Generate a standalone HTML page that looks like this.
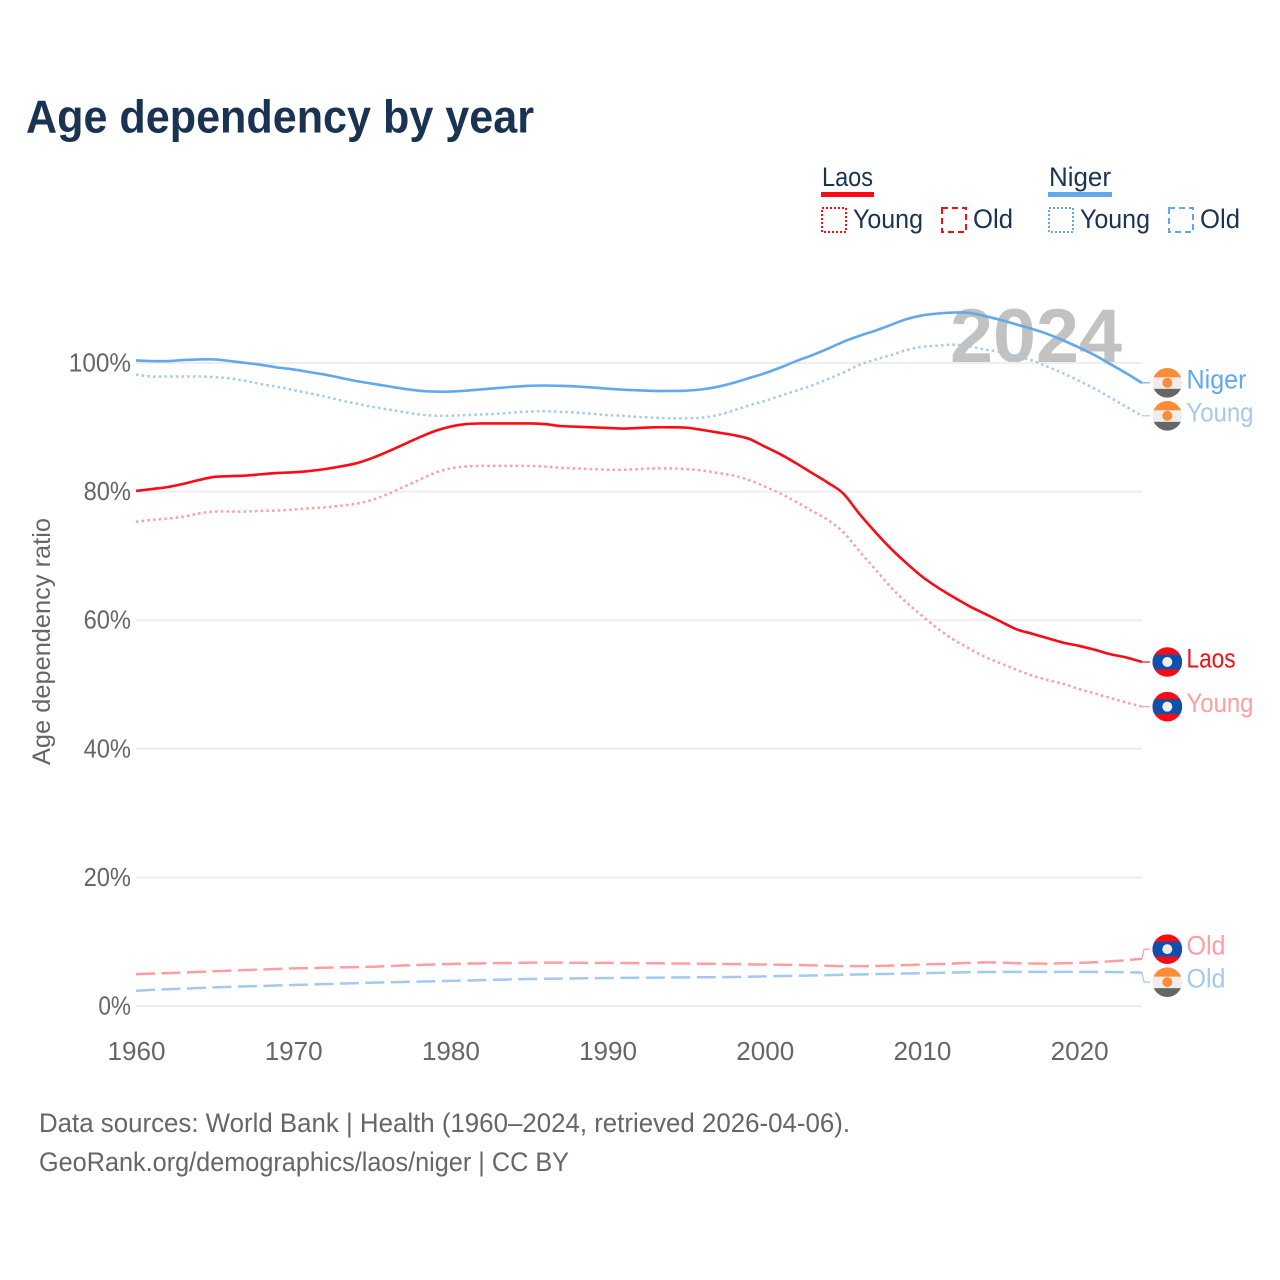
<!DOCTYPE html>
<html lang="en">
<head>
<meta charset="utf-8">
<title>Age dependency by year</title>
<style>
html,body{margin:0;padding:0;background:#fff;}
svg{display:block;font-family:"Liberation Sans",sans-serif;}
</style>
</head>
<body>
<svg id="chart" width="1280" height="1280" viewBox="0 0 1280 1280" xmlns="http://www.w3.org/2000/svg">
  <defs>
    <clipPath id="flag-clip"><circle cx="0" cy="0" r="14.8"/></clipPath>
  </defs>
  <rect width="1280" height="1280" fill="#fff"/>
  <text x="26" y="132.5" font-size="46" font-weight="700" fill="#1a3353" textLength="508" lengthAdjust="spacingAndGlyphs">Age dependency by year</text>

  <g>
    <text x="822" y="186" font-size="27" fill="#1a3353" textLength="51" lengthAdjust="spacingAndGlyphs">Laos</text>
    <rect x="821" y="192" width="53" height="5" fill="#ff0a14"/>
    <rect x="822" y="208" width="24" height="24" fill="none" stroke="#ff0a14" stroke-width="2" stroke-dasharray="2 2"/>
    <text x="853" y="228" font-size="27" fill="#1a3353" textLength="70" lengthAdjust="spacingAndGlyphs">Young</text>
    <rect x="942" y="208" width="24" height="24" fill="none" stroke="#ff0a14" stroke-width="2" stroke-dasharray="6 4"/>
    <text x="973" y="228" font-size="27" fill="#1a3353" textLength="40" lengthAdjust="spacingAndGlyphs">Old</text>

    <text x="1049" y="186" font-size="27" fill="#1a3353" textLength="62" lengthAdjust="spacingAndGlyphs">Niger</text>
    <rect x="1048" y="192" width="64" height="5" fill="#62a8ec"/>
    <rect x="1049" y="208" width="24" height="24" fill="none" stroke="#62a8ec" stroke-width="2" stroke-dasharray="2 2"/>
    <text x="1080" y="228" font-size="27" fill="#1a3353" textLength="70" lengthAdjust="spacingAndGlyphs">Young</text>
    <rect x="1169" y="208" width="24" height="24" fill="none" stroke="#62a8ec" stroke-width="2" stroke-dasharray="6 4"/>
    <text x="1200" y="228" font-size="27" fill="#1a3353" textLength="40" lengthAdjust="spacingAndGlyphs">Old</text>
  </g>

  <text x="950" y="362" font-size="76" font-weight="700" fill="#c2c2c2" textLength="172" lengthAdjust="spacingAndGlyphs">2024</text>

  <g id="grid"></g>
  <g id="y-ticks"></g>
  <g id="x-ticks"></g>
  <text transform="translate(50,765) rotate(-90)" x="0" y="0" font-size="25" fill="#666" textLength="247" lengthAdjust="spacingAndGlyphs">Age dependency ratio</text>
  <g id="series"></g>
  <g id="labels"></g>

  <text x="39" y="1132" font-size="26.5" fill="#666" textLength="811" lengthAdjust="spacingAndGlyphs">Data sources: World Bank | Health (1960–2024, retrieved 2026-04-06).</text>
  <text x="39" y="1171" font-size="26.5" fill="#666" textLength="530" lengthAdjust="spacingAndGlyphs">GeoRank.org/demographics/laos/niger | CC BY</text>
</svg>
<script>
const startYear = 1960;
const nigerTotal = [100.4,100.3,100.3,100.45,100.55,100.55,100.3,100,99.7,99.3,99,98.6,98.2,97.7,97.2,96.8,96.4,96,95.7,95.55,95.55,95.7,95.9,96.1,96.3,96.45,96.5,96.45,96.35,96.2,96,95.85,95.75,95.65,95.65,95.7,95.9,96.3,96.9,97.65,98.4,99.3,100.3,101.2,102.2,103.3,104.2,105,105.9,106.8,107.4,107.7,107.85,107.8,107.3,106.7,106,105.3,104.5,103.5,102.4,101.2,99.8,98.4,96.9];
const nigerYoung = [98.2,97.9,97.9,97.9,97.9,97.8,97.6,97.2,96.7,96.3,95.8,95.3,94.8,94.2,93.7,93.2,92.8,92.4,92,91.8,91.8,91.9,92,92.1,92.3,92.45,92.5,92.4,92.3,92.1,91.9,91.8,91.6,91.5,91.4,91.4,91.5,91.9,92.6,93.4,94.1,94.9,95.7,96.5,97.5,98.5,99.7,100.5,101.2,102,102.5,102.7,102.85,102.6,102.1,101.7,101,100.4,99.4,98.4,97.2,96,94.6,93.2,91.8];
const nigerOld = [2.38,2.5,2.6,2.7,2.8,2.9,2.98,3.05,3.12,3.2,3.26,3.33,3.4,3.48,3.55,3.63,3.68,3.74,3.8,3.85,3.9,3.96,4.02,4.08,4.14,4.2,4.23,4.26,4.29,4.32,4.35,4.37,4.39,4.41,4.43,4.45,4.47,4.49,4.51,4.55,4.6,4.65,4.7,4.75,4.8,4.85,4.9,4.95,5,5.05,5.1,5.15,5.2,5.25,5.28,5.3,5.3,5.3,5.3,5.3,5.3,5.3,5.28,5.25,5.2];
const laosTotal = [80.1,80.4,80.7,81.2,81.8,82.3,82.4,82.5,82.7,82.9,83,83.2,83.5,83.9,84.4,85.2,86.2,87.3,88.4,89.4,90.1,90.5,90.6,90.6,90.6,90.6,90.5,90.2,90.1,90,89.9,89.8,89.9,90,90,89.95,89.6,89.2,88.8,88.2,87,85.8,84.4,82.9,81.4,79.7,76.6,73.8,71.2,68.9,66.8,65.1,63.6,62.2,61,59.8,58.6,57.9,57.2,56.5,56,55.4,54.7,54.2,53.5];
const laosYoung = [75.3,75.6,75.8,76.1,76.6,76.9,76.9,76.9,77,77.05,77.2,77.4,77.55,77.8,78.1,78.7,79.6,80.7,81.8,82.9,83.6,83.9,84,84,84,84,83.9,83.7,83.6,83.5,83.4,83.4,83.5,83.6,83.6,83.5,83.3,82.9,82.5,81.8,80.8,79.7,78.4,77,75.6,73.7,70.8,68,65.2,62.8,60.7,58.7,57,55.6,54.3,53.3,52.3,51.4,50.7,50.1,49.3,48.6,47.9,47.2,46.55];
const laosOld = [4.95,5.04,5.12,5.2,5.3,5.4,5.5,5.6,5.68,5.76,5.85,5.9,5.95,6,6.05,6.1,6.2,6.3,6.38,6.46,6.53,6.58,6.63,6.67,6.7,6.74,6.74,6.74,6.72,6.71,6.7,6.68,6.66,6.64,6.62,6.6,6.58,6.55,6.52,6.48,6.45,6.42,6.38,6.32,6.26,6.2,6.2,6.22,6.28,6.36,6.45,6.52,6.6,6.7,6.78,6.75,6.65,6.6,6.6,6.65,6.7,6.8,6.95,7.1,7.35];
const yTickValues = [0,20,40,60,80,100];
const yTickLabels = ["0%","20%","40%","60%","80%","100%"];
const xTickValues = [1960,1970,1980,1990,2000,2010,2020];
const xTickLabels = ["1960","1970","1980","1990","2000","2010","2020"];

const NS = "http://www.w3.org/2000/svg";
const X0 = 136, X1 = 1142, Y0 = 1006, PX_PER_PCT = 6.43;
const lastYear = startYear + nigerTotal.length - 1;
function xScale(year) { return X0 + (year - startYear) * (X1 - X0) / (lastYear - startYear); }
function yScale(v) { return Y0 - v * PX_PER_PCT; }
function make(tag, attrs, parent, text) {
  const e = document.createElementNS(NS, tag);
  for (const k in attrs) e.setAttribute(k, attrs[k]);
  if (text !== undefined) e.textContent = text;
  parent.appendChild(e);
  return e;
}
/* Catmull-Rom smoothing through the yearly values */
function smoothPath(values) {
  const pts = values.map(function (v, i) { return [xScale(startYear + i), yScale(v)]; });
  let d = "M" + pts[0][0].toFixed(2) + " " + pts[0][1].toFixed(2);
  for (let i = 0; i < pts.length - 1; i++) {
    const p0 = pts[Math.max(i - 1, 0)], p1 = pts[i], p2 = pts[i + 1], p3 = pts[Math.min(i + 2, pts.length - 1)];
    const c1x = p1[0] + (p2[0] - p0[0]) / 6, c1y = p1[1] + (p2[1] - p0[1]) / 6;
    const c2x = p2[0] - (p3[0] - p1[0]) / 6, c2y = p2[1] - (p3[1] - p1[1]) / 6;
    d += " C" + c1x.toFixed(2) + " " + c1y.toFixed(2) + " " + c2x.toFixed(2) + " " + c2y.toFixed(2) + " " + p2[0].toFixed(2) + " " + p2[1].toFixed(2);
  }
  return d;
}

const grid = document.getElementById("grid");
const yTicks = document.getElementById("y-ticks");
const xTicks = document.getElementById("x-ticks");
yTickValues.forEach(function (v, i) {
  const line = make("line", {x1: X0, x2: X1, y1: yScale(v), y2: yScale(v), stroke: "#eeeeee", "stroke-width": 2}, grid);
  
  
  const label = yTickLabels[i];
  const t = make("text", {x: 131, y: yScale(v) + 8.5, "font-size": 25.5, fill: "#666", "text-anchor": "end", textLength: label.length * 14.8 + 3, lengthAdjust: "spacingAndGlyphs"}, yTicks, label);
  
  
});
xTickValues.forEach(function (y, i) {
  const t = make("text", {x: xScale(y) + 0.5, y: 1060, "font-size": 25.5, fill: "#666", "text-anchor": "middle", textLength: 58, lengthAdjust: "spacingAndGlyphs"}, xTicks, xTickLabels[i]);
  
  
});

const RED = "#ff0a14", LRED = "#ff9da1", BLUE = "#62a8ec", LBLUE = "#a3c9f1";
const seriesDefs = [
  {key: "niger-old", values: nigerOld, color: LBLUE, dash: "19 6.5", label: "Old", flag: "niger"},
  {key: "laos-old", values: laosOld, color: LRED, dash: "19 6.5", label: "Old", flag: "laos"},
  {key: "niger-young", values: nigerYoung, color: LBLUE, dash: "2.5 3.2", label: "Young", flag: "niger"},
  {key: "laos-young", values: laosYoung, color: LRED, dash: "2.5 3.2", label: "Young", flag: "laos"},
  {key: "niger-total", values: nigerTotal, color: BLUE, dash: "", label: "Niger", flag: "niger"},
  {key: "laos-total", values: laosTotal, color: RED, dash: "", label: "Laos", flag: "laos"}
];
const labelWidths = {Niger: 60, Young: 67, Laos: 49, Old: 39};

const seriesGroup = document.getElementById("series");
seriesDefs.forEach(function (s) {
  const attrs = {d: smoothPath(s.values), fill: "none", stroke: s.color, "stroke-width": s.dash ? 2.5 : 2.6, "stroke-linejoin": "round"};
  if (s.dash) attrs["stroke-dasharray"] = s.dash;
  const p = make("path", attrs, seriesGroup);
  
  
});

/* dodge end labels so they stay at least 33px apart */
const ends = seriesDefs.map(function (s) {
  const endY = yScale(s.values[s.values.length - 1]);
  return {s: s, endY: endY, labelY: endY};
}).sort(function (a, b) { return a.endY - b.endY; });
for (let i = 1; i < ends.length; i++) {
  if (ends[i].labelY - ends[i - 1].labelY < 33) {
    const mid = (ends[i].labelY + ends[i - 1].labelY) / 2;
    ends[i - 1].labelY = mid - 16.5;
    ends[i].labelY = mid + 16.5;
  }
}

const labelsGroup = document.getElementById("labels");
function drawFlag(parent, type) {
  const g = make("g", {"clip-path": "url(#flag-clip)"}, parent);
  if (type === "niger") {
    make("rect", {x: -15, y: -15, width: 30, height: 30, fill: "#eeeeee"}, g);
    make("rect", {x: -15, y: -15, width: 30, height: 9.5, fill: "#ff8c37"}, g);
    make("rect", {x: -15, y: 6, width: 30, height: 9.5, fill: "#666666"}, g);
    make("circle", {cx: 0, cy: 0, r: 5, fill: "#ff8c37"}, g);
  } else {
    make("rect", {x: -15, y: -15, width: 30, height: 30, fill: RED}, g);
    make("rect", {x: -15, y: -7.5, width: 30, height: 15, fill: "#0f50ac"}, g);
    make("circle", {cx: 0, cy: 0, r: 5, fill: "#eeeeee"}, g);
  }
}
ends.forEach(function (e) {
  const leader = make("path", {
    d: "M" + X1 + " " + e.endY.toFixed(2) + " L" + (X1 + 2) + " " + e.labelY.toFixed(2) + " L1150 " + e.labelY.toFixed(2),
    fill: "none", stroke: e.s.color, "stroke-width": 1.2
  }, labelsGroup);
  
  

  const flag = make("g", {transform: "translate(1167.3," + e.labelY.toFixed(2) + ")"}, labelsGroup);
  
  
  drawFlag(flag, e.s.flag);

  const t = make("text", {
    x: 1186.5, y: e.labelY + 5.5, "font-size": 27, fill: e.s.color,
    textLength: labelWidths[e.s.label], lengthAdjust: "spacingAndGlyphs"
  }, labelsGroup, e.s.label);
  
  
});
</script>
</body>
</html>
